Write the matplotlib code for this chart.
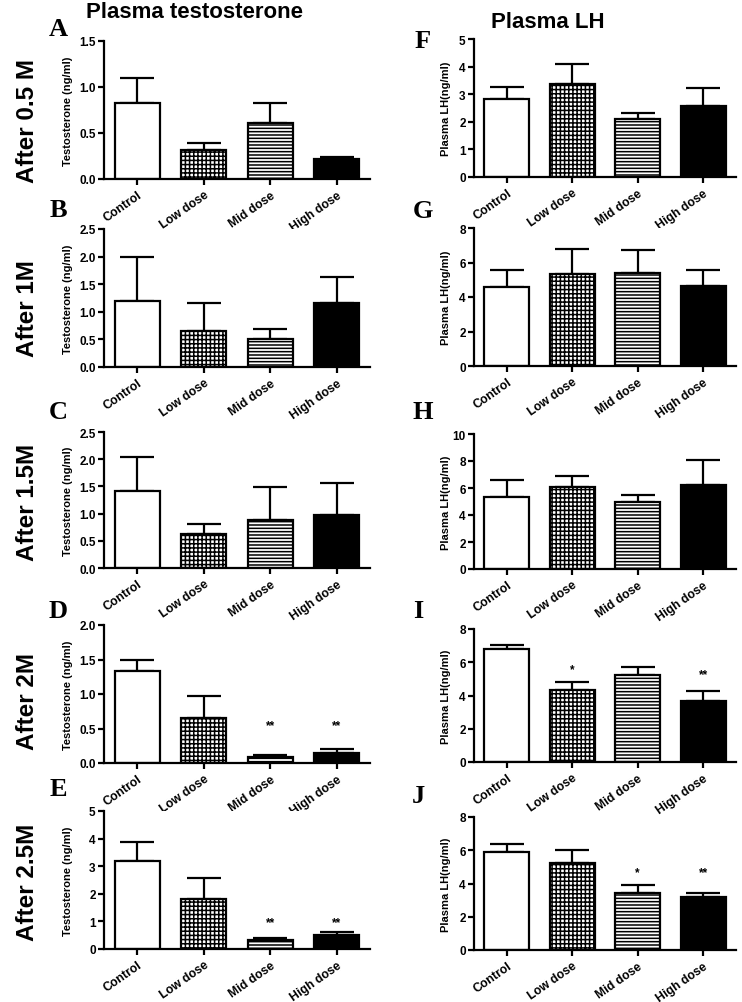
import numpy as np
import matplotlib
matplotlib.use('Agg')
import matplotlib.pyplot as plt

plt.rcParams['font.family'] = ['Liberation Sans', 'DejaVu Sans']
plt.rcParams['font.weight'] = 'bold'
plt.rcParams['hatch.linewidth'] = 1.1

groups = ['Control', 'Low dose', 'Mid dose', 'High dose']
times = ['After 0.5 M', 'After 1M', 'After 1.5M', 'After 2M', 'After 2.5M']

# testosterone (ng/ml), mean and upper SEM, one row per time point
testo_mean = [[0.83, 0.32, 0.61, 0.22],
              [1.20, 0.66, 0.51, 1.16],
              [1.41, 0.62, 0.88, 0.97],
              [1.33, 0.65, 0.08, 0.15],
              [3.20, 1.82, 0.34, 0.50]]
testo_sem = [[0.27, 0.07, 0.22, 0.02],
             [0.79, 0.50, 0.18, 0.47],
             [0.63, 0.18, 0.61, 0.60],
             [0.16, 0.32, 0.03, 0.06],
             [0.68, 0.74, 0.06, 0.10]]
testo_stars = [['', '', '', ''], ['', '', '', ''], ['', '', '', ''],
               ['', '', '**', '**'], ['', '', '**', '**']]
testo_star_y = [[0, 0, 0, 0], [0, 0, 0, 0], [0, 0, 0, 0],
                [0, 0, 0.59, 0.59], [0, 0, 1.10, 1.10]]
testo_ymax = [1.5, 2.5, 2.5, 2.0, 5]
testo_yticks = [['0.0', '0.5', '1.0', '1.5'],
                ['0.0', '0.5', '1.0', '1.5', '2.0', '2.5'],
                ['0.0', '0.5', '1.0', '1.5', '2.0', '2.5'],
                ['0.0', '0.5', '1.0', '1.5', '2.0'],
                ['0', '1', '2', '3', '4', '5']]

# plasma LH (ng/ml)
lh_mean = [[2.81, 3.36, 2.11, 2.59],
           [4.56, 5.35, 5.41, 4.64],
           [5.32, 6.09, 4.97, 6.19],
           [6.81, 4.32, 5.23, 3.68],
           [5.87, 5.25, 3.41, 3.21]]
lh_sem = [[0.44, 0.75, 0.22, 0.64],
          [1.01, 1.43, 1.33, 0.91],
          [1.24, 0.79, 0.50, 1.91],
          [0.23, 0.52, 0.48, 0.62],
          [0.50, 0.74, 0.48, 0.20]]
lh_stars = [['', '', '', ''], ['', '', '', ''], ['', '', '', ''],
            ['', '*', '', '**'], ['', '', '*', '**']]
lh_star_y = [[0, 0, 0, 0], [0, 0, 0, 0], [0, 0, 0, 0],
             [0, 5.8, 0, 5.5], [0, 0, 4.85, 4.85]]
lh_ymax = [5, 8, 10, 8, 8]
lh_yticks = [['0', '1', '2', '3', '4', '5'],
             ['0', '2', '4', '6', '8'],
             ['0', '2', '4', '6', '8', '10'],
             ['0', '2', '4', '6', '8'],
             ['0', '2', '4', '6', '8']]

left_letters = ['A', 'B', 'C', 'D', 'E']
right_letters = ['F', 'G', 'H', 'I', 'J']

W, H = 742, 1003
fig = plt.figure(figsize=(W / 100, H / 100), dpi=100)

# pixel layout: (top, bottom) of each axes
left_rows = [(42, 180), (230, 368), (433, 569), (626, 764), (812, 950)]
right_rows = [(40, 178), (229, 367), (435, 570), (630, 763), (818, 951)]
row_label_y = [121, 309, 502, 702, 882]
left_letter_y = [30, 211, 413, 611, 790]
right_letter_y = [41, 212, 413, 611, 797]
right_letter_x = [423, 423, 423, 418, 418]

faces = ['white', 'white', 'white', 'black']
hatches = ['', '++++', '-----', '']


def panel(ax, mean, sem, stars, star_y, ymax, yticklabels, ylabel):
    x = np.arange(len(groups))
    bars = ax.bar(x, mean, width=0.68, color=faces, edgecolor='black',
                  linewidth=1.6, zorder=2)
    for b, h in zip(bars, hatches):
        b.set_hatch(h)
    ax.errorbar(x, mean, yerr=[np.zeros(len(mean)), sem], fmt='none',
                ecolor='black', elinewidth=1.6, capsize=12, capthick=1.6,
                zorder=1)
    for xi, s, sy in zip(x, stars, star_y):
        if s:
            ax.annotate(s, (xi, sy), xytext=(0, -4.5), textcoords='offset points',
                        ha='center', va='baseline', fontsize=8.5, fontweight='bold')
    ax.set_xlim(-0.5, 3.5)
    ax.set_ylim(0, ymax)
    ax.set_yticks([float(t) for t in yticklabels])
    ax.set_yticklabels(yticklabels)
    ax.set_xticks(x)
    ax.set_xticklabels(groups, rotation=35, ha='right', rotation_mode='anchor')
    for s in ['top', 'right']:
        ax.spines[s].set_visible(False)
    for s in ['left', 'bottom']:
        ax.spines[s].set_linewidth(1.6)
    ax.tick_params(width=1.6, length=4, labelsize=8.5, pad=2)
    ax.tick_params(axis='x', labelsize=8.8, pad=3)
    ax.set_ylabel(ylabel, fontsize=8, fontweight='bold')


for i in range(5):
    top, bot = left_rows[i]
    ax = fig.add_axes([104 / W, 1 - bot / H, 266 / W, (bot - top) / H])
    panel(ax, testo_mean[i], testo_sem[i], testo_stars[i], testo_star_y[i],
          testo_ymax[i], testo_yticks[i], 'Testosterone (ng/ml)')
    ax.yaxis.set_label_coords(-0.117, 0.5)

    top, bot = right_rows[i]
    ax = fig.add_axes([474 / W, 1 - bot / H, 262 / W, (bot - top) / H])
    panel(ax, lh_mean[i], lh_sem[i], lh_stars[i], lh_star_y[i],
          lh_ymax[i], lh_yticks[i], 'Plasma LH(ng/ml)')
    ax.yaxis.set_label_coords(-0.088, 0.5)

    fig.text(27 / W, 1 - row_label_y[i] / H, times[i], rotation=90,
             ha='center', va='center', fontsize=17.5, fontweight='bold')
    fig.text(58 / W, 1 - left_letter_y[i] / H, left_letters[i],
             family=['Liberation Serif', 'DejaVu Serif'], fontsize=19,
             fontweight='bold', ha='center', va='center')
    fig.text(right_letter_x[i] / W, 1 - right_letter_y[i] / H, right_letters[i],
             family=['Liberation Serif', 'DejaVu Serif'], fontsize=19,
             fontweight='bold', ha='center', va='center')

fig.text(195 / W, 1 - 12 / H, 'Plasma testosterone', ha='center', va='center',
         fontsize=16, fontweight='bold')
fig.text(548 / W, 1 - 23 / H, 'Plasma LH', ha='center', va='center',
         fontsize=16, fontweight='bold')

fig.savefig('out.png', dpi=100)
